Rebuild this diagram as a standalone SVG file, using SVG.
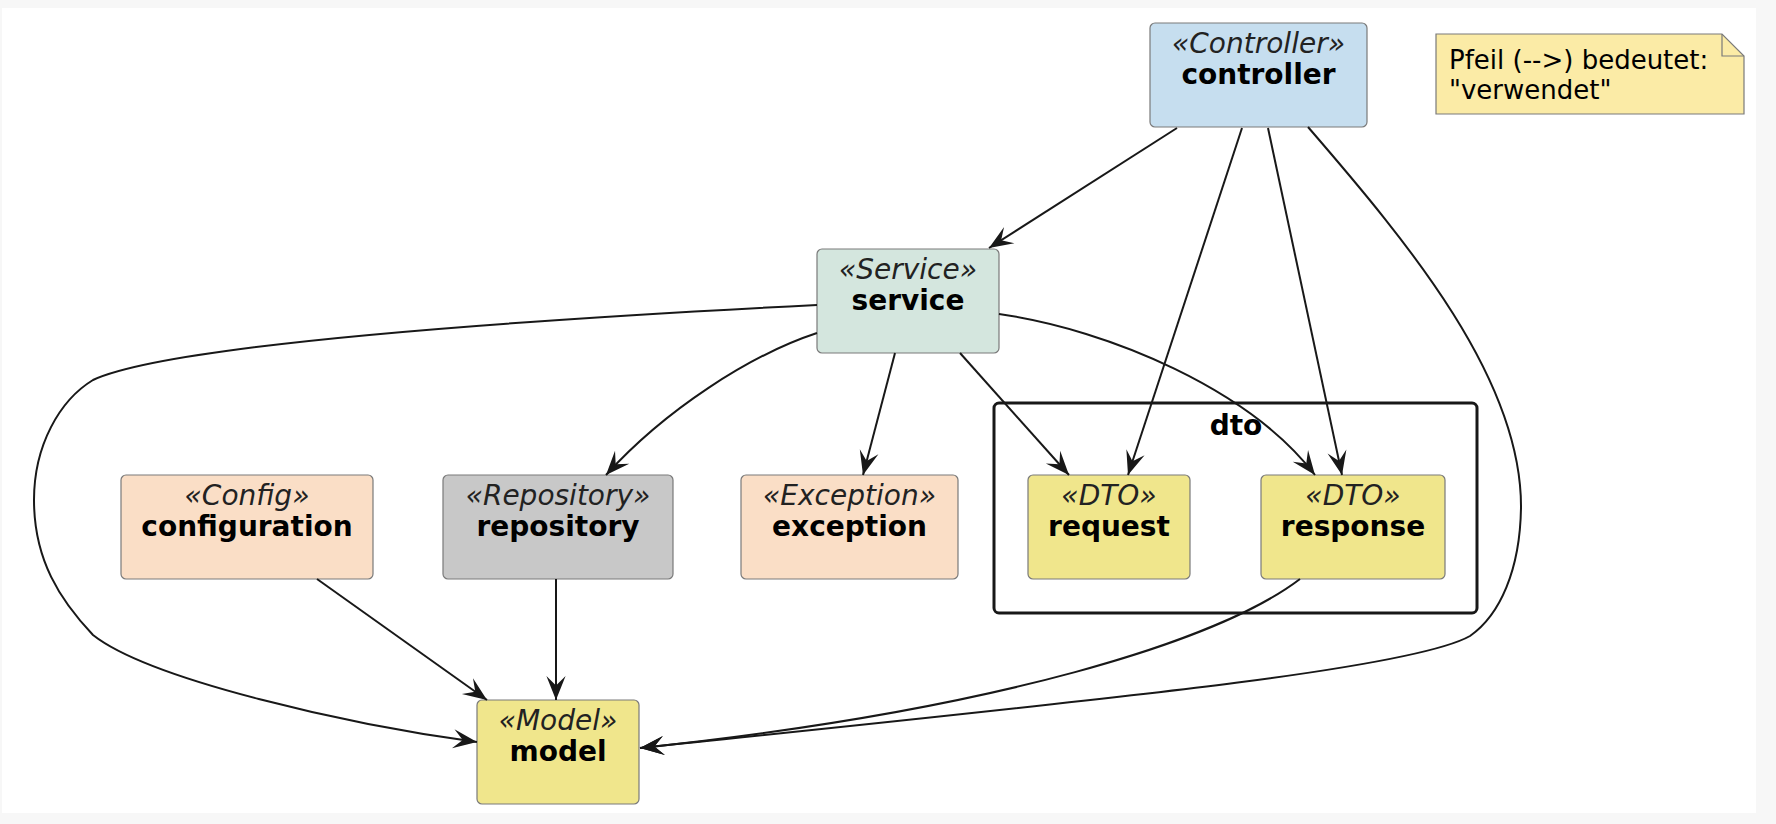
<svg xmlns="http://www.w3.org/2000/svg" width="1776" height="824" viewBox="0 0 1776 824">
<style>
.box{stroke:#7a7a7a;stroke-width:1.2}
.st{font-family:"DejaVu Sans","Liberation Sans",sans-serif;font-style:italic;font-size:28px;fill:#222;text-anchor:middle}
.nm{font-family:"DejaVu Sans","Liberation Sans",sans-serif;font-weight:bold;font-size:28px;fill:#000;text-anchor:middle}
.nt{font-family:"DejaVu Sans","Liberation Sans",sans-serif;font-size:26px;fill:#000}
.e{fill:none;stroke:#181818;stroke-width:2;marker-end:url(#arr)}
</style>
<defs>
<marker id="arr" markerUnits="userSpaceOnUse" markerWidth="24" markerHeight="20" viewBox="0 0 20 16" refX="20" refY="8" orient="auto" overflow="visible">
<path d="M0,0 L20,8 L0,16 L8,8 Z" fill="#181818"/>
</marker>
</defs>
<rect x="0" y="0" width="1776" height="824" fill="#f7f7f7"/>
<rect x="2" y="8" width="1754" height="805" fill="#ffffff"/>

<g id="pkg-dto">
<rect x="994" y="403" width="483" height="210" rx="5" fill="none" stroke="#181818" stroke-width="3"/>
<text class="nm" x="1236" y="435">dto</text>
</g>

<g id="controller">
<rect class="box" x="1150" y="23" width="217" height="104" rx="5" fill="#c6deef"/>
<text class="st" x="1258.5" y="53">«Controller»</text>
<text class="nm" x="1258.5" y="84">controller</text>
</g>

<g id="note">
<path d="M1436,34 H1722 L1744,56 V114 H1436 Z" fill="#fbeba6" stroke="#7a7a7a" stroke-width="1.2"/>
<path d="M1722,34 V56 H1744" fill="none" stroke="#7a7a7a" stroke-width="1.2"/>
<text class="nt" x="1449" y="69">Pfeil (--&gt;) bedeutet:</text>
<text class="nt" x="1449" y="99">"verwendet"</text>
</g>

<g id="service">
<rect class="box" x="817" y="249" width="182" height="104" rx="5" fill="#d4e6de"/>
<text class="st" x="908" y="279">«Service»</text>
<text class="nm" x="908" y="310">service</text>
</g>

<g id="configuration">
<rect class="box" x="121" y="475" width="252" height="104" rx="5" fill="#fadec6"/>
<text class="st" x="247" y="505">«Config»</text>
<text class="nm" x="247" y="536">configuration</text>
</g>

<g id="repository">
<rect class="box" x="443" y="475" width="230" height="104" rx="5" fill="#c8c8c8"/>
<text class="st" x="558" y="505">«Repository»</text>
<text class="nm" x="558" y="536">repository</text>
</g>

<g id="exception">
<rect class="box" x="741" y="475" width="217" height="104" rx="5" fill="#fadec6"/>
<text class="st" x="849.5" y="505">«Exception»</text>
<text class="nm" x="849.5" y="536">exception</text>
</g>

<g id="request">
<rect class="box" x="1028" y="475" width="162" height="104" rx="5" fill="#f0e68c"/>
<text class="st" x="1109" y="505">«DTO»</text>
<text class="nm" x="1109" y="536">request</text>
</g>

<g id="response">
<rect class="box" x="1261" y="475" width="184" height="104" rx="5" fill="#f0e68c"/>
<text class="st" x="1353" y="505">«DTO»</text>
<text class="nm" x="1353" y="536">response</text>
</g>

<g id="model">
<rect class="box" x="477" y="700" width="162" height="104" rx="5" fill="#f0e68c"/>
<text class="st" x="558" y="730">«Model»</text>
<text class="nm" x="558" y="761">model</text>
</g>

<g id="connectors">
<path class="e" d="M1177,128 L989,248"/>
<path class="e" d="M1242,128 L1128,475"/>
<path class="e" d="M1268,128 L1342,475"/>
<path class="e" d="M1308,127 C1410,245 1522,380 1521,508 C1520,570 1500,615 1470,636 C1410,670 1100,700 640,748"/>
<path class="e" d="M817,305 C600,316 180,340 93,380 C60,400 34,445 34,500 C34,560 60,600 93,635 C150,680 350,725 477,742"/>
<path class="e" d="M817,333 C750,355 665,410 606,475"/>
<path class="e" d="M895,353 L863,475"/>
<path class="e" d="M960,353 L1069,475"/>
<path class="e" d="M999,314 C1110,330 1250,390 1315,475"/>
<path class="e" d="M317,579 L487,700"/>
<path class="e" d="M556,579 L556,700"/>
<path class="e" d="M1300,579 C1220,640 1000,710 640,748"/>
</g>
</svg>
